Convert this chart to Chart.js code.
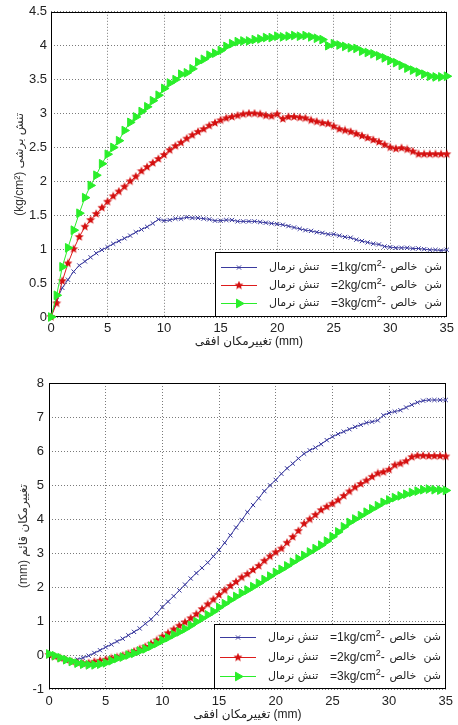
<!DOCTYPE html>
<html>
<head>
<meta charset="utf-8">
<script src="https://cdn.jsdelivr.net/npm/chart.js@4.4.1/dist/chart.umd.min.js"></script>
<style>
  html, body { margin: 0; padding: 0; background: #fff; }
  #wrap { position: relative; width: 458px; height: 725px; }
  canvas { position: absolute; left: 0; }
  #shearChart { top: 0; }
  #vertChart { top: 360px; }
</style>
</head>
<body>
<div id="wrap">
  <canvas id="shearChart" width="458" height="360"></canvas>
  <canvas id="vertChart" width="458" height="365"></canvas>
</div>
<script>
// horizontal displacement (mm), shared by every test
const dispX = [
  0, 0.5, 1, 1.5, 2, 2.5, 3, 3.5, 4, 4.5,
  5, 5.5, 6, 6.5, 7, 7.5, 8, 8.5, 9, 9.5,
  10, 10.5, 11, 11.5, 12, 12.5, 13, 13.5, 14, 14.5,
  15, 15.5, 16, 16.5, 17, 17.5, 18, 18.5, 19, 19.5,
  20, 20.5, 21, 21.5, 22, 22.5, 23, 23.5, 24, 24.5,
  25, 25.5, 26, 26.5, 27, 27.5, 28, 28.5, 29, 29.5,
  30, 30.5, 31, 31.5, 32, 32.5, 33, 33.5, 34, 34.5,
  35
];

// shear stress (kg/cm2) for normal stress 1, 2, 3 kg/cm2
const shear1 = [
  0, 0.25, 0.43, 0.55, 0.67, 0.76, 0.82, 0.88, 0.94, 0.99,
  1.03, 1.08, 1.12, 1.16, 1.2, 1.25, 1.29, 1.33, 1.38, 1.44,
  1.42, 1.43, 1.45, 1.45, 1.47, 1.46, 1.46, 1.45, 1.44, 1.42,
  1.42, 1.43, 1.43, 1.41, 1.41, 1.41, 1.41, 1.4, 1.39, 1.38,
  1.37, 1.36, 1.34, 1.32, 1.3, 1.28, 1.27, 1.25, 1.24, 1.22,
  1.22, 1.2, 1.18, 1.17, 1.14, 1.12, 1.1, 1.08, 1.07, 1.04,
  1.03, 1.02, 1.02, 1.02, 1.01, 1.01, 1.0, 0.99, 0.99, 0.98,
  0.99
];
const shear2 = [
  0, 0.2, 0.53, 0.79, 1.0, 1.18, 1.33, 1.43, 1.52, 1.61,
  1.7, 1.78, 1.85, 1.92, 2.0, 2.07, 2.15, 2.21, 2.27, 2.33,
  2.39, 2.46, 2.52, 2.57, 2.63, 2.68, 2.73, 2.77, 2.82, 2.86,
  2.9, 2.93, 2.95, 2.97, 2.99, 3.0, 3.0, 2.99, 2.97, 2.96,
  2.99, 2.92, 2.95, 2.95, 2.94, 2.93, 2.9, 2.88, 2.86, 2.85,
  2.81, 2.77, 2.75, 2.73, 2.7, 2.67, 2.64, 2.61, 2.58, 2.54,
  2.5, 2.48, 2.49, 2.47, 2.44, 2.4, 2.4, 2.4, 2.4, 2.4,
  2.4
];
const shear3 = [
  0, 0.32, 0.74, 1.02, 1.28, 1.53, 1.76, 1.94, 2.09, 2.26,
  2.4, 2.5, 2.6, 2.75, 2.87, 2.95, 3.03, 3.1, 3.19, 3.27,
  3.37, 3.45, 3.5, 3.58, 3.6, 3.66, 3.76, 3.8, 3.86, 3.89,
  3.93, 3.99, 4.03, 4.06, 4.07, 4.07, 4.09, 4.1, 4.12, 4.12,
  4.14, 4.13, 4.14, 4.15, 4.14, 4.15, 4.13, 4.11, 4.09, 4.0,
  4.03, 4.01, 3.99, 3.97, 3.96, 3.92, 3.9, 3.88, 3.85, 3.82,
  3.78, 3.75, 3.71, 3.67, 3.64, 3.61, 3.58, 3.55, 3.54, 3.54,
  3.55
];

// vertical displacement (mm) for the same three tests
const vert1 = [
  0, -0.04, -0.1, -0.15, -0.18, -0.13, -0.08, -0.02, 0.06, 0.14,
  0.23, 0.31, 0.4, 0.48, 0.58, 0.68, 0.78, 0.92, 1.05, 1.22,
  1.41, 1.57, 1.73, 1.9, 2.07, 2.25, 2.41, 2.56, 2.72, 2.9,
  3.09, 3.3, 3.52, 3.75, 3.97, 4.2, 4.41, 4.61, 4.82, 4.99,
  5.15, 5.33, 5.49, 5.63, 5.78, 5.92, 6.02, 6.1, 6.2, 6.32,
  6.42, 6.5, 6.57, 6.64, 6.71, 6.77, 6.83, 6.86, 6.9, 7.05,
  7.12, 7.16, 7.2, 7.28, 7.36, 7.43, 7.48, 7.5, 7.5, 7.5,
  7.5
];
const vert2 = [
  0, -0.05, -0.1, -0.15, -0.2, -0.23, -0.25, -0.24, -0.2, -0.17,
  -0.14, -0.1, -0.07, -0.02, 0.04, 0.1, 0.17, 0.24, 0.33, 0.43,
  0.54, 0.64, 0.75, 0.86, 0.96, 1.08, 1.2, 1.35, 1.49, 1.63,
  1.77, 1.9, 2.03, 2.15, 2.28, 2.38, 2.5, 2.62, 2.77, 2.9,
  3.02, 3.13, 3.3, 3.47, 3.65, 3.86, 3.99, 4.12, 4.26, 4.36,
  4.45, 4.55, 4.68, 4.81, 4.93, 5.03, 5.13, 5.24, 5.34, 5.38,
  5.45, 5.58, 5.63, 5.7, 5.82, 5.86, 5.86, 5.85, 5.85, 5.85,
  5.84
];
const vert3 = [
  0.03, -0.02, -0.08, -0.14, -0.19, -0.24, -0.27, -0.29, -0.29, -0.27,
  -0.23, -0.17, -0.1, -0.06, 0.0, 0.05, 0.12, 0.18, 0.26, 0.34,
  0.43, 0.51, 0.6, 0.68, 0.77, 0.87, 0.98, 1.08, 1.18, 1.28,
  1.4, 1.51, 1.62, 1.72, 1.82, 1.91, 2.01, 2.11, 2.22, 2.32,
  2.43, 2.52, 2.62, 2.73, 2.83, 2.93, 3.03, 3.13, 3.23, 3.35,
  3.48, 3.62, 3.77, 3.9, 4.0, 4.1, 4.2, 4.3, 4.39, 4.49,
  4.56, 4.63, 4.68, 4.73, 4.78, 4.82, 4.86, 4.88, 4.86, 4.85,
  4.84
];

// legend wording
const normalLoads = ['1', '2', '3'];
const stressWord = 'تنش نرمال';
const soilWord = 'شن  خالص';

const xTitle = 'تغییرمکان افقی (mm)';
const shearTitle = '(kg/cm²) تنش برشی';
const vertTitle = '(mm) تغییرمکان قائم';

const fontFamily = '"Liberation Sans", Arial, "DejaVu Sans", sans-serif';

// filled five-point star used as the red marker
function starImage(color, size) {
  const c = document.createElement('canvas');
  c.width = c.height = size;
  const g = c.getContext('2d');
  const r = size / 2;
  g.beginPath();
  for (let k = 0; k < 10; k++) {
    const rad = k % 2 ? r * 0.42 : r - 0.3;
    const ang = -Math.PI / 2 + k * Math.PI / 5;
    g.lineTo(r + rad * Math.cos(ang), r + rad * Math.sin(ang));
  }
  g.closePath();
  g.fillStyle = color;
  g.fill();
  return c;
}

const blueC = '#3a3a9e';
const redC = '#dd1c1c';
const greenC = '#2aee2a';
const redStar = starImage('#d41010', 10);

function makeSets(a, b, c) {
  const pts = arr => dispX.map((x, i) => ({ x: x, y: arr[i] }));
  return [
    {
      label: 'شن خالص - تنش نرمال=1kg/cm²', data: pts(a), order: 3,
      borderColor: blueC, borderWidth: 1, pointStyle: 'crossRot', pointRadius: 3,
      pointBorderColor: blueC, pointBackgroundColor: blueC, pointBorderWidth: 1
    },
    {
      label: 'شن خالص - تنش نرمال=2kg/cm²', data: pts(b), order: 2,
      borderColor: redC, borderWidth: 1, pointStyle: redStar, pointRadius: 5,
      pointBorderColor: redC, pointBackgroundColor: redC, pointBorderWidth: 1
    },
    {
      label: 'شن خالص - تنش نرمال=3kg/cm²', data: pts(c), order: 1,
      borderColor: greenC, borderWidth: 1, pointStyle: 'triangle', pointRotation: 90, pointRadius: 5,
      pointBorderColor: greenC, pointBackgroundColor: greenC, pointBorderWidth: 1
    }
  ];
}

// axes box around the plot area
const framePlugin = {
  id: 'frame',
  beforeDatasetsDraw(chart) {
    const { ctx, chartArea: a } = chart;
    ctx.save();
    ctx.strokeStyle = '#000';
    ctx.lineWidth = 1;
    ctx.strokeRect(Math.round(a.left) + 0.5, Math.round(a.top) + 0.5,
      Math.round(a.width) - 1, Math.round(a.height) - 1);
    ctx.restore();
  }
};

// boxed legend in the lower right corner of the plot
const boxLegend = {
  id: 'boxLegend',
  afterDatasetsDraw(chart, args, opts) {
    const { ctx, chartArea: a } = chart;
    const w = 232, h = 65;
    const left = Math.round(a.right) - w;
    const top = Math.round(a.bottom) - h;
    ctx.save();
    ctx.fillStyle = '#fff';
    ctx.fillRect(left, top, w, h);
    ctx.strokeStyle = '#000';
    ctx.lineWidth = 1;
    ctx.strokeRect(left + 0.5, top + 0.5, w - 1, h - 1);

    chart.data.datasets.forEach((ds, i) => {
      const y = top + opts.rows[i];
      ctx.strokeStyle = ds.borderColor;
      ctx.lineWidth = 1;
      ctx.beginPath();
      ctx.moveTo(left + 6, y + 0.5);
      ctx.lineTo(left + 42, y + 0.5);
      ctx.stroke();

      ctx.fillStyle = ds.pointBackgroundColor;
      ctx.strokeStyle = ds.pointBorderColor;
      ctx.lineWidth = ds.pointBorderWidth;
      Chart.helpers.drawPoint(ctx, {
        pointStyle: ds.pointStyle, rotation: ds.pointRotation || 0,
        radius: ds.pointRadius, borderWidth: ds.pointBorderWidth
      }, left + 24, y + 0.5);

      ctx.fillStyle = '#222';
      ctx.textBaseline = 'middle';
      ctx.textAlign = 'left';
      ctx.font = '11px "DejaVu Sans", sans-serif';
      ctx.fillText(stressWord, left + 54, y);

      ctx.font = '12px ' + fontFamily;
      let tx = left + 116;
      const main = '=' + normalLoads[i] + 'kg/cm';
      ctx.fillText(main, tx, y + 1);
      tx += ctx.measureText(main).width;
      ctx.font = '9px ' + fontFamily;
      ctx.fillText('2', tx, y - 3);
      tx += ctx.measureText('2').width;
      ctx.font = '12px ' + fontFamily;
      ctx.fillText('-', tx, y + 1);

      ctx.font = '11px "DejaVu Sans", sans-serif';
      ctx.textAlign = 'right';
      ctx.fillText(soilWord, left + w - 5, y);
    });
    ctx.restore();
  }
};

// plain tick text: 4 rather than 4.0
const plainTick = v => String(Math.round(v * 10) / 10);

function makeChart(id, sets, cfg) {
  return new Chart(document.getElementById(id), {
    type: 'line',
    data: { datasets: sets },
    plugins: [framePlugin, boxLegend],
    options: {
      responsive: false,
      animation: false,
      layout: { padding: { left: 0, right: cfg.padRight, top: cfg.padTop, bottom: 0 } },
      elements: { line: { tension: 0 } },
      datasets: { line: { clip: false } },
      plugins: {
        legend: { display: false },
        tooltip: { enabled: false },
        boxLegend: { rows: cfg.rows }
      },
      scales: {
        x: {
          type: 'linear', min: 0, max: 35,
          afterFit: s => { s.height = cfg.xHeight; },
          ticks: { stepSize: 5, padding: cfg.xTickPad, color: '#222', callback: plainTick,
            font: { family: fontFamily, size: 13 } },
          grid: { color: '#7a7a7a', drawTicks: false },
          border: { display: false, dash: [1, 2] },
          title: {
            display: true, text: xTitle, color: '#222',
            font: { family: fontFamily, size: 12 }, padding: { top: 0, bottom: cfg.xTitlePad }
          }
        },
        y: {
          type: 'linear', min: cfg.yMin, max: cfg.yMax,
          afterFit: s => { s.width = cfg.yWidth; },
          ticks: { stepSize: cfg.yStep, padding: cfg.yTickPad, color: '#222', callback: plainTick,
            font: { family: fontFamily, size: 13 } },
          grid: { color: '#7a7a7a', drawTicks: false },
          border: { display: false, dash: [1, 2] },
          title: {
            display: true, text: cfg.yTitle, color: '#333',
            font: { family: fontFamily, size: 12 }, padding: { top: cfg.yTitlePad, bottom: 0 }
          }
        }
      }
    }
  });
}

makeChart('shearChart', makeSets(shear1, shear2, shear3), {
  padTop: 11, padRight: 10, xHeight: 43, yWidth: 51,
  yMin: 0, yMax: 4.5, yStep: 0.5, yTitle: shearTitle,
  xTickPad: 4, yTickPad: 4, xTitlePad: 11, yTitlePad: 12,
  rows: [15, 33, 51]
});

makeChart('vertChart', makeSets(vert1, vert2, vert3), {
  padTop: 23, padRight: 9, xHeight: 36, yWidth: 49,
  yMin: -1, yMax: 8, yStep: 1, yTitle: vertTitle,
  xTickPad: 5, yTickPad: 5, xTitlePad: 3, yTitlePad: 16,
  rows: [13, 33, 52]
});
</script>
</body>
</html>
